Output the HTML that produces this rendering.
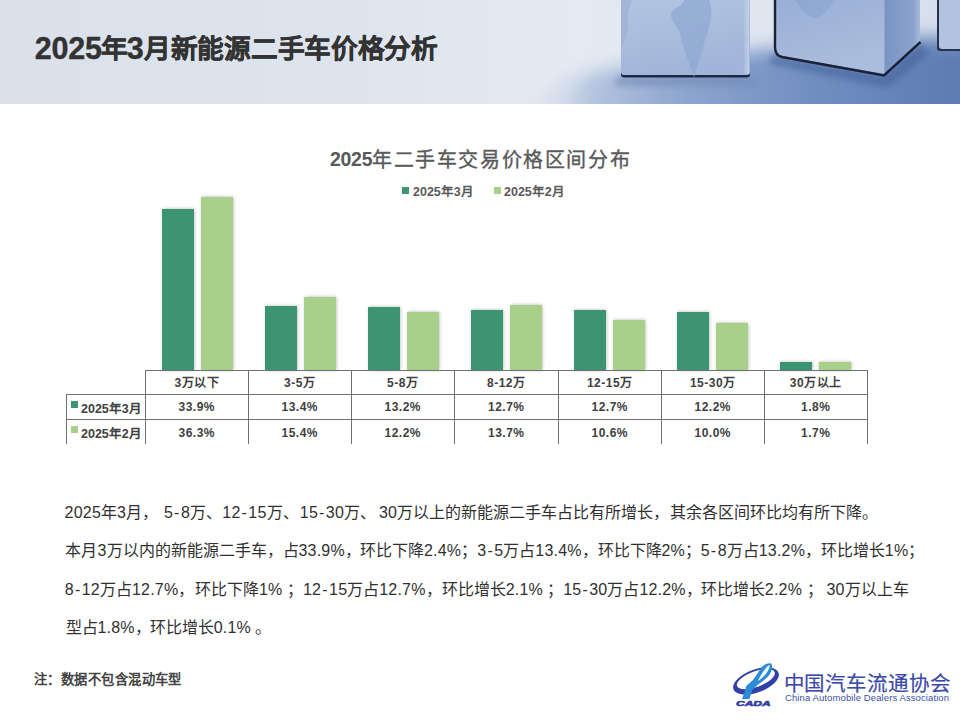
<!DOCTYPE html><html lang="zh-CN"><head><meta charset="utf-8"><style>
*{margin:0;padding:0;box-sizing:border-box}
html,body{width:960px;height:720px;overflow:hidden;background:#fff}
body{position:relative;font-family:"Liberation Sans",sans-serif;color:#000}
.abs{position:absolute;white-space:nowrap}
i{font-style:normal}
#hdr{position:absolute;left:0;top:0;width:960px;height:104px;overflow:hidden}
.ttl{font-weight:bold;color:#333;-webkit-text-stroke:0.4px #333}
.ctitle{left:330px;top:144px;font-size:20.5px;font-weight:bold;color:#595959;letter-spacing:0.1px}
.leg{font-size:11px;font-weight:bold;color:#404040}
.sq{position:absolute;width:7px;height:7px}
.bar{position:absolute;box-shadow:0.5px 0 3.5px rgba(0,0,0,0.3)}
.d{background:#3d9472}
.l{background:#a8d08b}
.tl{position:absolute;background:#707070}
.tc{position:absolute;text-align:center;font-size:12px;font-weight:bold;color:#404040;white-space:nowrap;letter-spacing:0.5px;text-indent:0.5px}
.txt{font-size:16px;color:#303030}
.txt .n{letter-spacing:0.2px}
.txt .hy{letter-spacing:1.5px;padding-left:1px}
</style></head><body>
<div id="hdr"><svg width="960" height="104" viewBox="0 0 960 104">
<defs>
<linearGradient id="bg" x1="0" y1="0" x2="960" y2="0" gradientUnits="userSpaceOnUse">
<stop offset="0" stop-color="#dbe1eb"/><stop offset="0.35" stop-color="#dee4ed"/><stop offset="0.6" stop-color="#e5eaf2"/><stop offset="0.8" stop-color="#dfe6f0"/><stop offset="1" stop-color="#d6dfed"/>
</linearGradient>
<linearGradient id="floorh" x1="520" y1="0" x2="960" y2="0" gradientUnits="userSpaceOnUse">
<stop offset="0" stop-color="#dfe6f0" stop-opacity="0"/><stop offset="0.16" stop-color="#b5c5df"/><stop offset="0.36" stop-color="#8fa6cf"/><stop offset="0.64" stop-color="#7390c2"/><stop offset="1" stop-color="#5b7bb2"/>
</linearGradient>
<linearGradient id="floorv" x1="0" y1="0" x2="0" y2="104" gradientUnits="userSpaceOnUse">
<stop offset="0.3" stop-color="#fff" stop-opacity="0"/><stop offset="0.75" stop-color="#fff" stop-opacity="1"/><stop offset="1" stop-color="#fff" stop-opacity="1"/>
</linearGradient>
<mask id="fm"><rect width="960" height="104" fill="url(#floorv)"/></mask>
<linearGradient id="c1" x1="0" y1="0" x2="0.3" y2="1">
<stop offset="0" stop-color="#b4c6e2"/><stop offset="1" stop-color="#a0b5d9"/>
</linearGradient>
<linearGradient id="c2l" x1="0" y1="0" x2="0.4" y2="1">
<stop offset="0" stop-color="#98aed5"/><stop offset="1" stop-color="#aabddd"/>
</linearGradient>
<linearGradient id="c2r" x1="0" y1="0" x2="1" y2="0">
<stop offset="0" stop-color="#7994c3"/><stop offset="0.8" stop-color="#8aa2cc"/><stop offset="1" stop-color="#a6badb"/>
</linearGradient>
<linearGradient id="hl" x1="0" y1="0" x2="1" y2="0"><stop offset="0" stop-color="#cbd8eb" stop-opacity="0"/><stop offset="1" stop-color="#cbd8eb"/></linearGradient>
<filter id="blur8" x="-20%" y="-50%" width="140%" height="200%"><feGaussianBlur stdDeviation="9"/></filter>
<filter id="blur3"><feGaussianBlur stdDeviation="3"/></filter>
<filter id="blur1"><feGaussianBlur stdDeviation="0.6"/></filter>
</defs>
<rect width="960" height="104" fill="url(#bg)"/>
<path d="M500 150 L 520 110 C 545 85 580 72 630 66 L 760 50 L 920 38 L 990 36 L 990 150 Z" fill="url(#floorh)" filter="url(#blur8)"/>
<g filter="url(#blur3)">
<path d="M618 76 L752 76 L758 86 L614 86 Z" fill="#6f89b8" opacity="0.6"/>
<path d="M772 54 L884 76 L920 44 L930 52 L888 88 L770 64 Z" fill="#45639a" opacity="0.6"/>
<path d="M934 50 L960 50 L960 58 L934 58 Z" fill="#6f89b8" opacity="0.6"/>
</g>
<g filter="url(#blur1)">
<rect x="621" y="60" width="129" height="17.5" rx="3" fill="#1f2a45"/>
<rect x="621" y="-6" width="129" height="81" rx="3" fill="url(#c1)"/>
<rect x="743" y="-6" width="6" height="80" fill="url(#hl)" opacity="0.8"/>
<path d="M684 0 L709 0 C711 4 712 10 711 16 C710 28 706 36 704 44 C702 52 700 58 698 64 C696 70 695 74 694 77 C692 72 690 64 687 58 C684 50 682 42 680 34 C678 28 672 22 671 16 C671 10 676 8 680 6 C682 4 684 2 684 0 Z" fill="#90a8d1" opacity="0.75"/>
<path d="M621 0 L632 0 C630 6 627 12 628 20 C629 28 626 36 624 44 L621 46 Z" fill="#97add4" opacity="0.6"/>
<path d="M775 -6 L 885 -6 L 885 74 L 782 56 Q 775 54 775 47 Z" fill="url(#c2l)"/>
<path d="M884.5 -6 L 920 -6 L 920 42 L 884.5 74 Z" fill="url(#c2r)"/>
<path d="M775 -6 L 775 47 Q 775 55.5 782 57 L 884 75.5 L 920.5 42" fill="none" stroke="#1b2136" stroke-width="2.4"/>
<path d="M795 0 C 800 8 806 16 814 18 C 822 18 828 10 834 0 Z" fill="#8aa3ce" opacity="0.6"/>
<rect x="937" y="-6" width="30" height="57" rx="3" fill="#263250"/>
<rect x="939" y="-6" width="30" height="55" rx="3" fill="#b2c3df"/>
</g>
</svg></div>
<div class="abs ttl" style="left:34.7px;top:30.5px;font-size:30.5px;letter-spacing:-0.2px">2025</div>
<div class="abs ttl" style="left:100.5px;top:27.4px;font-size:26.7px">年</div>
<div class="abs ttl" style="left:126.8px;top:30.5px;font-size:30.5px;letter-spacing:0">3</div>
<div class="abs ttl" style="left:144px;top:27.4px;font-size:26.7px;letter-spacing:-0.3px">月新能源二手车价格分析</div>
<div class="abs ctitle" style="font-size:19.5px;letter-spacing:-0.3px;top:147.5px">2025</div>
<div class="abs ctitle" style="left:372px;top:144px;font-size:20px;letter-spacing:1.6px;font-weight:normal;-webkit-text-stroke:0.35px #595959">年二手车交易价格区间分布</div>
<div class="sq d" style="left:402px;top:187px"></div><div class="abs leg" style="left:413px;top:181px;font-size:12.5px;color:#595959">2025年3月</div>
<div class="sq l" style="left:494px;top:187px"></div><div class="abs leg" style="left:504px;top:181px;font-size:12.5px;color:#595959">2025年2月</div>
<div class="bar d" style="left:162px;top:209px;width:32px;height:161px"></div>
<div class="bar l" style="left:201px;top:197px;width:32px;height:173px"></div>
<div class="bar d" style="left:265px;top:306px;width:32px;height:64px"></div>
<div class="bar l" style="left:304px;top:297px;width:32px;height:73px"></div>
<div class="bar d" style="left:368px;top:307px;width:32px;height:63px"></div>
<div class="bar l" style="left:407px;top:312px;width:32px;height:58px"></div>
<div class="bar d" style="left:471px;top:310px;width:32px;height:60px"></div>
<div class="bar l" style="left:510px;top:305px;width:32px;height:65px"></div>
<div class="bar d" style="left:574px;top:310px;width:32px;height:60px"></div>
<div class="bar l" style="left:613px;top:320px;width:32px;height:50px"></div>
<div class="bar d" style="left:677px;top:312px;width:32px;height:58px"></div>
<div class="bar l" style="left:716px;top:323px;width:32px;height:47px"></div>
<div class="bar d" style="left:780px;top:362px;width:32px;height:8px"></div>
<div class="bar l" style="left:819px;top:362px;width:32px;height:8px"></div>
<div class="tl" style="left:145px;top:370px;width:723px;height:1px"></div>
<div class="tl" style="left:66px;top:394px;width:802px;height:1px"></div>
<div class="tl" style="left:66px;top:419px;width:802px;height:1px"></div>
<div class="tl" style="left:66px;top:394px;width:1px;height:50px"></div>
<div class="tl" style="left:145px;top:370px;width:1px;height:74px"></div>
<div class="tl" style="left:248px;top:370px;width:1px;height:74px"></div>
<div class="tl" style="left:351px;top:370px;width:1px;height:74px"></div>
<div class="tl" style="left:454px;top:370px;width:1px;height:74px"></div>
<div class="tl" style="left:558px;top:370px;width:1px;height:74px"></div>
<div class="tl" style="left:661px;top:370px;width:1px;height:74px"></div>
<div class="tl" style="left:764px;top:370px;width:1px;height:74px"></div>
<div class="tl" style="left:867px;top:370px;width:1px;height:74px"></div>
<div class="tc" style="left:145px;top:373px;width:103px">3万以下</div>
<div class="tc" style="left:145px;top:400px;width:103px">33.9%</div>
<div class="tc" style="left:145px;top:426px;width:103px">36.3%</div>
<div class="tc" style="left:248px;top:373px;width:103px">3-5万</div>
<div class="tc" style="left:248px;top:400px;width:103px">13.4%</div>
<div class="tc" style="left:248px;top:426px;width:103px">15.4%</div>
<div class="tc" style="left:351px;top:373px;width:103px">5-8万</div>
<div class="tc" style="left:351px;top:400px;width:103px">13.2%</div>
<div class="tc" style="left:351px;top:426px;width:103px">12.2%</div>
<div class="tc" style="left:454px;top:373px;width:104px">8-12万</div>
<div class="tc" style="left:454px;top:400px;width:104px">12.7%</div>
<div class="tc" style="left:454px;top:426px;width:104px">13.7%</div>
<div class="tc" style="left:558px;top:373px;width:103px">12-15万</div>
<div class="tc" style="left:558px;top:400px;width:103px">12.7%</div>
<div class="tc" style="left:558px;top:426px;width:103px">10.6%</div>
<div class="tc" style="left:661px;top:373px;width:103px">15-30万</div>
<div class="tc" style="left:661px;top:400px;width:103px">12.2%</div>
<div class="tc" style="left:661px;top:426px;width:103px">10.0%</div>
<div class="tc" style="left:764px;top:373px;width:103px">30万以上</div>
<div class="tc" style="left:764px;top:400px;width:103px">1.8%</div>
<div class="tc" style="left:764px;top:426px;width:103px">1.7%</div>
<div class="sq d" style="left:71px;top:401px"></div><div class="abs leg" style="left:81px;top:398px;font-size:12.5px">2025年3月</div>
<div class="sq l" style="left:71px;top:426px"></div><div class="abs leg" style="left:81px;top:423px;font-size:12.5px">2025年2月</div>
<div class="abs txt" style="left:64.6px;top:498.7px"><span class="n">2025</span>年<span class="n">3</span>月，</div>
<div class="abs txt" style="left:164.0px;top:498.7px"><span class="n">5<i class="hy">-</i>8</span>万、</div>
<div class="abs txt" style="left:222.3px;top:498.7px"><span class="n">12<i class="hy">-</i>15</span>万、</div>
<div class="abs txt" style="left:299.8px;top:498.7px"><span class="n">15<i class="hy">-</i>30</span>万、</div>
<div class="abs txt" style="left:379.0px;top:498.7px"><span class="n">30</span>万以上的新能源二手车占比有所增长，</div>
<div class="abs txt" style="left:670.0px;top:498.7px">其余各区间环比均有所下降。</div>
<div class="abs txt" style="left:65.4px;top:537.2px">本月<span class="n">3</span>万以内的新能源二手车，</div>
<div class="abs txt" style="left:282.5px;top:537.2px">占<span class="n">33.9%</span>，</div>
<div class="abs txt" style="left:360.0px;top:537.2px">环比下降<span class="n">2.4%</span>；</div>
<div class="abs txt" style="left:477.3px;top:537.2px"><span class="n">3<i class="hy">-</i>5</span>万占<span class="n">13.4%</span>，</div>
<div class="abs txt" style="left:597.5px;top:537.2px">环比下降<span class="n">2%</span>；</div>
<div class="abs txt" style="left:700.7px;top:537.2px"><span class="n">5<i class="hy">-</i>8</span>万占<span class="n">13.2%</span>，</div>
<div class="abs txt" style="left:820.8px;top:537.2px">环比增长<span class="n">1%</span>；</div>
<div class="abs txt" style="left:64.8px;top:575.7px"><span class="n">8<i class="hy">-</i>12</span>万占<span class="n">12.7%</span>，</div>
<div class="abs txt" style="left:195.0px;top:575.7px">环比下降<span class="n">1%</span> ；</div>
<div class="abs txt" style="left:303.0px;top:575.7px"><span class="n">12<i class="hy">-</i>15</span>万占<span class="n">12.7%</span>，</div>
<div class="abs txt" style="left:441.7px;top:575.7px">环比增长<span class="n">2.1%</span> ；</div>
<div class="abs txt" style="left:563.2px;top:575.7px"><span class="n">15<i class="hy">-</i>30</span>万占<span class="n">12.2%</span>，</div>
<div class="abs txt" style="left:700.8px;top:575.7px">环比增长<span class="n">2.2%</span> ；</div>
<div class="abs txt" style="left:826.5px;top:575.7px"><span class="n">30</span>万以上车</div>
<div class="abs txt" style="left:65.5px;top:614.2px">型占<span class="n">1.8%</span>，</div>
<div class="abs txt" style="left:149.7px;top:614.2px">环比增长<span class="n">0.1%</span> 。</div>
<div class="abs" style="left:34px;top:669px;font-size:13.3px;font-weight:bold;color:#444;letter-spacing:0.45px">注：数据不包含混动车型</div>
<svg class="abs" style="left:725px;top:655px" width="60" height="60" viewBox="0 0 60 60">
<g transform="translate(31 26) rotate(-20)">
<path d="M-24 0 A24 11.5 0 1 0 24 0 A24 11.5 0 1 0 -24 0 Z M-19.5 -1.8 A20 7.8 0 1 1 20.5 -1.8 A20 7.8 0 1 1 -19.5 -1.8 Z" fill="#3040a4" fill-rule="evenodd"/>
</g>
<path d="M17 44 L24.5 44 C25.5 40 26.5 37 28 34.5 C31 31 34 29 38 26 C42 23 46 19 47 14 C47.5 10 46.5 8 45 8.3 C41 8.5 38 10.5 36 13 C33.5 17 31 21 28 25 C25 28 22.5 29.5 21 31.5 C20.5 34 19.5 38 17 44 Z" fill="#2b8bd4"/>
<path d="M44.5 10 C42 11 39 15 36 20 C34.5 22.5 33.5 24.5 33 26 C36 24 40 20.5 42.5 16.5 C44 14 44.8 12 44.5 10 Z" fill="#ffffff"/>
<text x="11" y="51.2" font-family="Liberation Sans" font-size="8" font-weight="bold" font-style="italic" fill="#3040a4" stroke="#3040a4" stroke-width="0.6" textLength="34.5" lengthAdjust="spacingAndGlyphs">CADA</text>
</svg>
<div class="abs" style="left:783.5px;top:666.5px;font-size:20.5px;color:#3b4aa6;letter-spacing:0.9px;-webkit-text-stroke:0.2px #3b4aa6">中国汽车流通协会</div>
<div class="abs" style="left:785px;top:692px;font-size:9.5px;color:#3d4fa6;letter-spacing:0.1px">China Automobile Dealers Association</div>
</body></html>
